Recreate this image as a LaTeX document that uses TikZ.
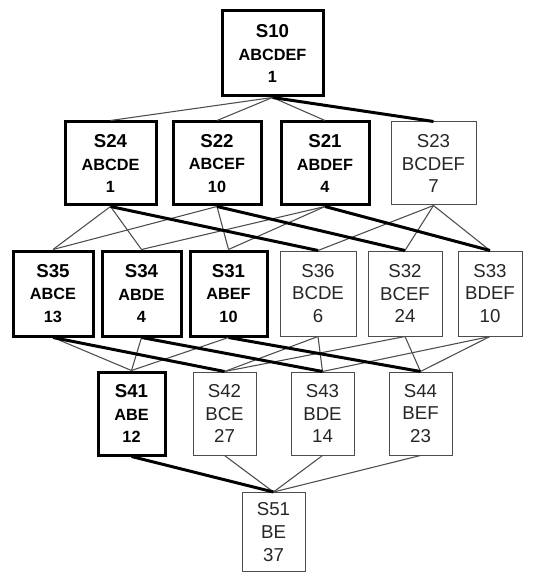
\documentclass[tikz,border=0pt]{standalone}
\usepackage{fontspec}
\setmainfont{Liberation Sans}
\newcommand{\nodehead}[1]{{\fontsize{14}{17}\selectfont #1}}
\begin{document}
\begin{tikzpicture}[x=0.75pt, y=-0.75pt,
  setbox/.style={draw, align=center, inner sep=0pt, fill=white},
  strong/.style={setbox, line width=2.25pt, font=\fontsize{12.2}{17}\selectfont\bfseries},
  weak/.style={setbox, draw=black!70, line width=0.75pt, text=black!85, font=\fontsize{14}{17}\selectfont},
  link/.style={black!70, line width=0.8pt},
  chosen/.style={black, line width=2.25pt}]
  \useasboundingbox (0,0) rectangle (535,573);
  \node[strong, minimum width=75.75pt, minimum height=63.75pt] (S10) at (272.5,53.5) {\nodehead{S10}\\ABCDEF\\1};
  \node[strong, minimum width=68.25pt, minimum height=62.25pt] (S24) at (110.5,163.5) {\nodehead{S24}\\ABCDE\\1};
  \node[strong, minimum width=66pt, minimum height=62.25pt] (S22) at (217,163.5) {\nodehead{S22}\\ABCEF\\10};
  \node[strong, minimum width=66pt, minimum height=62.25pt] (S21) at (325,163.5) {\nodehead{S21}\\ABDEF\\4};
  \node[weak, minimum width=63.75pt, minimum height=62.25pt] (S23) at (433.5,163.5) {S23\\BCDEF\\7};
  \node[strong, minimum width=60pt, minimum height=63.75pt] (S35) at (53,293.5) {\nodehead{S35}\\ABCE\\13};
  \node[strong, minimum width=59.25pt, minimum height=63.75pt] (S34) at (141.5,293.5) {\nodehead{S34}\\ABDE\\4};
  \node[strong, minimum width=57.75pt, minimum height=63.75pt] (S31) at (228.5,293.5) {\nodehead{S31}\\ABEF\\10};
  \node[weak, minimum width=57pt, minimum height=63.75pt] (S36) at (318,293.5) {S36\\BCDE\\6};
  \node[weak, minimum width=55.5pt, minimum height=63.75pt] (S32) at (405,293.5) {S32\\BCEF\\24};
  \node[weak, minimum width=48pt, minimum height=63.75pt] (S33) at (490,293.5) {S33\\BDEF\\10};
  \node[strong, minimum width=50.25pt, minimum height=62.25pt] (S41) at (131.5,413.5) {\nodehead{S41}\\ABE\\12};
  \node[weak, minimum width=47.25pt, minimum height=62.25pt] (S42) at (224.5,413.5) {S42\\BCE\\27};
  \node[weak, minimum width=47.25pt, minimum height=62.25pt] (S43) at (322.5,413.5) {S43\\BDE\\14};
  \node[weak, minimum width=47.25pt, minimum height=62.25pt] (S44) at (420.5,413.5) {S44\\BEF\\23};
  \node[weak, minimum width=47.25pt, minimum height=59.25pt] (S51) at (273.5,532) {S51\\BE\\37};
  \foreach \a/\b in {S10/S24, S10/S22, S10/S21,
      S24/S35, S24/S34, S22/S35, S22/S31, S21/S34, S21/S31,
      S23/S36, S23/S32, S23/S33,
      S35/S41, S34/S41, S31/S41, S36/S42, S36/S43, S32/S42, S32/S44, S33/S43, S33/S44,
      S42/S51, S43/S51, S44/S51}
    \draw[link] (\a.south) -- (\b.north);
  \draw[chosen] (S10.south) -- (S23.north);
  \draw[chosen] (S24.south) -- (S36.north);
  \draw[chosen] (S22.south) -- (S32.north);
  \draw[chosen] (S21.south) -- (S33.north);
  \draw[chosen] (S35.south) -- (S42.north);
  \draw[chosen] (S34.south) -- (S43.north);
  \draw[chosen] (S31.south) -- (S44.north);
  \draw[chosen] (S41.south) -- (S51.north);
\end{tikzpicture}
\end{document}
